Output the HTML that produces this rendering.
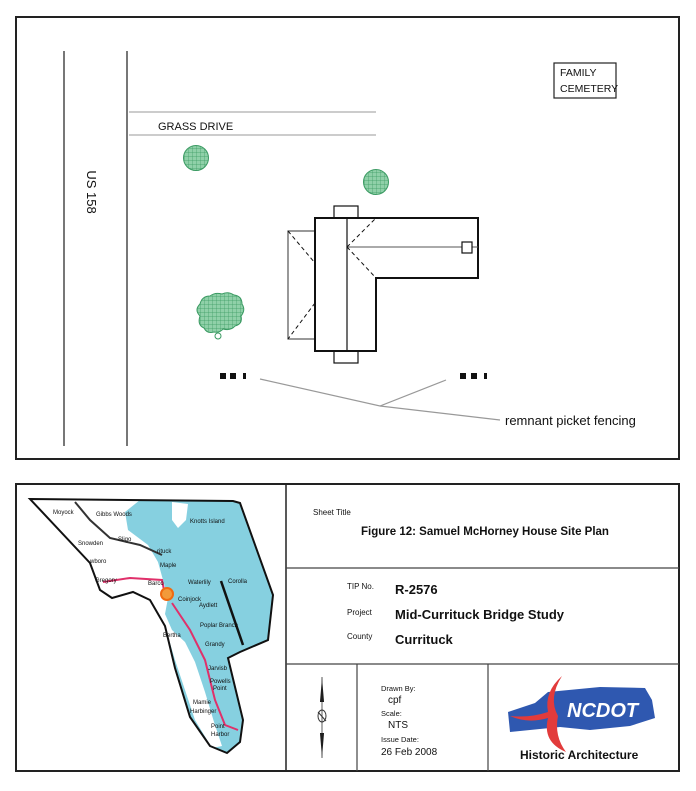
<!DOCTYPE html>
<html><head><meta charset="utf-8"><style>
body{margin:0;background:#fff;}
svg{display:block;font-family:"Liberation Sans",sans-serif;}
</style></head><body>
<svg width="696" height="791" viewBox="0 0 696 791" xmlns="http://www.w3.org/2000/svg">
<defs>
<pattern id="hatch" width="4" height="4" patternUnits="userSpaceOnUse">
<rect width="4" height="4" fill="#8fd0a8"/>
<path d="M0 0H4M0 0V4" stroke="#3a9a62" stroke-width="0.7"/>
</pattern>
</defs>
<!-- top frame -->
<rect x="16" y="17" width="663" height="442" fill="none" stroke="#222" stroke-width="2"/>
<line x1="64" y1="51" x2="64" y2="446" stroke="#777" stroke-width="2"/>
<line x1="127" y1="51" x2="127" y2="446" stroke="#777" stroke-width="2"/>
<line x1="129" y1="112" x2="376" y2="112" stroke="#bbb" stroke-width="1.5"/>
<line x1="129" y1="135" x2="376" y2="135" stroke="#bbb" stroke-width="1.5"/>
<text x="158" y="130" font-size="11" fill="#111">GRASS DRIVE</text>
<text transform="translate(87,192) rotate(90)" font-size="13" text-anchor="middle" fill="#111">US 158</text>
<rect x="554" y="63" width="62" height="35" fill="none" stroke="#222" stroke-width="1.2"/>
<text x="560" y="76" font-size="10.5" fill="#111">FAMILY</text>
<text x="560" y="92" font-size="10.5" fill="#111">CEMETERY</text>
<circle cx="196" cy="158" r="12.5" fill="url(#hatch)" stroke="#3a9a62"/>
<circle cx="376" cy="182" r="12.5" fill="url(#hatch)" stroke="#3a9a62"/>
<path d="M200 316 q-6 -6 0 -12 q2 -8 10 -8 q5 -4 12 -2 q6 -3 12 1 q8 1 8 9 q4 6 -1 12 q2 8 -6 10 q-4 5 -12 3 q-3 4 -9 3 q-7 2 -10 -4 q-7 -3 -4 -12z" fill="url(#hatch)" stroke="#3a9a62"/>
<circle cx="218" cy="336" r="3" fill="none" stroke="#3a9a62"/>
<!-- house -->
<g fill="none" stroke="#111">
<rect x="334" y="206" width="24" height="12" stroke-width="1.2"/>
<rect x="334" y="351" width="24" height="12" stroke-width="1.2"/>
<rect x="288" y="231" width="27" height="108" stroke="#555" stroke-width="1.2"/>
<path d="M315 218 H478 V278 H376 V351 H315 Z" stroke-width="2" fill="#fff"/>
<line x1="347" y1="218" x2="347" y2="351" stroke-width="1.2"/>
<line x1="347" y1="247" x2="478" y2="247" stroke="#555" stroke-width="1"/>
<rect x="462" y="242" width="10" height="11" fill="#fff" stroke-width="1.2"/>
<g stroke-dasharray="4,3" stroke-width="1">
<line x1="288" y1="231" x2="315" y2="263"/>
<line x1="315" y1="303" x2="288" y2="339"/>
<line x1="347" y1="247" x2="376" y2="218"/>
<line x1="347" y1="247" x2="376" y2="278"/>
</g>
</g>
<!-- fence -->
<g fill="#111">
<rect x="220" y="373" width="6" height="6"/><rect x="230" y="373" width="6" height="6"/><rect x="243" y="373" width="3" height="6"/>
<rect x="460" y="373" width="6" height="6"/><rect x="471" y="373" width="6" height="6"/><rect x="484" y="373" width="3" height="6"/>
</g>
<polyline points="260,379 380,406 446,380" fill="none" stroke="#999" stroke-width="1.2"/>
<line x1="380" y1="406" x2="500" y2="420" stroke="#999" stroke-width="1.2"/>
<text x="505" y="425" font-size="13" fill="#111">remnant picket fencing</text>

<!-- bottom frame -->
<rect x="16" y="484" width="663" height="287" fill="none" stroke="#222" stroke-width="2"/>
<line x1="286" y1="484" x2="286" y2="771" stroke="#222" stroke-width="1.5"/>
<line x1="286" y1="568" x2="679" y2="568" stroke="#444" stroke-width="1.2"/>
<line x1="286" y1="664" x2="679" y2="664" stroke="#444" stroke-width="1.2"/>
<line x1="357" y1="664" x2="357" y2="771" stroke="#444" stroke-width="1.2"/>
<line x1="488" y1="664" x2="488" y2="771" stroke="#444" stroke-width="1.2"/>
<text x="313" y="515" font-size="8" fill="#111">Sheet Title</text>
<text x="361" y="535" font-size="11.5" font-weight="bold" fill="#111">Figure 12:  Samuel McHorney House Site Plan</text>
<text x="347" y="589" font-size="8" fill="#111">TIP No.</text>
<text x="395" y="594" font-size="13" font-weight="bold" fill="#111">R-2576</text>
<text x="347" y="615" font-size="8" fill="#111">Project</text>
<text x="395" y="619" font-size="13" font-weight="bold" fill="#111">Mid-Currituck Bridge Study</text>
<text x="347" y="639" font-size="8" fill="#111">County</text>
<text x="395" y="644" font-size="13" font-weight="bold" fill="#111">Currituck</text>
<text x="381" y="691" font-size="7.5" fill="#111">Drawn By:</text>
<text x="388" y="703" font-size="10" fill="#111">cpf</text>
<text x="381" y="716" font-size="7.5" fill="#111">Scale:</text>
<text x="388" y="728" font-size="10" fill="#111">NTS</text>
<text x="381" y="742" font-size="7.5" fill="#111">Issue Date:</text>
<text x="381" y="755" font-size="10" fill="#111">26 Feb 2008</text>
<!-- compass -->
<path d="M322 677 L324 702 L320 702 Z" fill="#111"/>
<path d="M320 733 L324 733 L322 758 Z" fill="#111"/>
<line x1="322" y1="677" x2="322" y2="758" stroke="#333" stroke-width="0.8"/>
<ellipse cx="322" cy="716" rx="4" ry="6" fill="none" stroke="#333"/>
<line x1="318" y1="712" x2="326" y2="721" stroke="#333"/>
<!-- NCDOT -->
<path d="M508 712 L535 703 L548 692 L600 687 L645 688 L652 700 L655 718 L630 726 L590 730 L560 727 L530 730 L510 732 Z" fill="#2f58b0"/>
<path d="M562 676 q-18 16 -14 36 q-18 6 -38 4 q18 8 38 2 q-6 24 18 34 q-12 -16 -8 -36 q-10 -18 4 -40z" fill="#e23b3b"/>
<text x="567" y="717" font-size="20" font-weight="bold" font-style="italic" fill="#fff">NCDOT</text>
<text x="520" y="759" font-size="12" font-weight="bold" fill="#111">Historic Architecture</text>
<!-- map -->
<polygon points="30,499 233,501 240,503 273,595 268,640 240,652 228,658 243,720 240,742 227,753 210,746 190,717 175,668 165,626 150,600 133,592 112,598 100,590 90,563" fill="#86d0e0"/>
<polygon points="30,499 140,500 125,512 128,530 148,545 158,562 163,580 168,598 165,614 172,630 185,642 195,662 205,692 214,722 222,746 212,748 195,720 185,690 175,660 165,626 150,600 133,592 112,598 100,590 90,563" fill="#fff"/>
<polygon points="172,502 188,504 186,520 178,528 172,520" fill="#fff"/>
<polygon points="30,499 233,501 240,503 273,595 268,640 240,652 228,658 243,720 240,742 227,753 210,746 190,717 175,668 165,626 150,600 133,592 112,598 100,590 90,563" fill="none" stroke="#111" stroke-width="2"/>
<line x1="221" y1="581" x2="243" y2="645" stroke="#111" stroke-width="2.5"/>
<polyline points="103,582 130,578 162,580 165,595" fill="none" stroke="#e0306a" stroke-width="2"/>
<polyline points="172,603 190,630 205,660 215,700 225,725 238,730" fill="none" stroke="#e0306a" stroke-width="2"/>
<polyline points="75,502 90,520 110,538 140,545 162,555" fill="none" stroke="#333" stroke-width="2"/>
<circle cx="167" cy="594" r="6" fill="#f29a3a" stroke="#f06a10" stroke-width="2"/>
<g font-size="6" fill="#111">
<text x="53" y="514">Moyock</text><text x="96" y="516">Gibbs Woods</text>
<text x="190" y="523">Knotts Island</text><text x="118" y="541">Sligo</text>
<text x="78" y="545">Snowden</text><text x="157" y="553">rituck</text>
<text x="160" y="567">Maple</text><text x="188" y="584">Waterlily</text>
<text x="228" y="583">Corolla</text><text x="148" y="585">Barco</text>
<text x="178" y="601">Coinjock</text><text x="199" y="607">Aydlett</text>
<text x="200" y="627">Poplar Branch</text><text x="205" y="646">Grandy</text>
<text x="163" y="637">Bertha</text><text x="208" y="670">Jarvisb</text>
<text x="210" y="683">Powells</text><text x="213" y="690">Point</text>
<text x="193" y="704">Mamie</text><text x="190" y="713">Harbinger</text>
<text x="211" y="728">Point</text><text x="211" y="736">Harbor</text>
<text x="95" y="582">Gregory</text><text x="90" y="563">wboro</text>
</g>
</svg>
</body></html>
